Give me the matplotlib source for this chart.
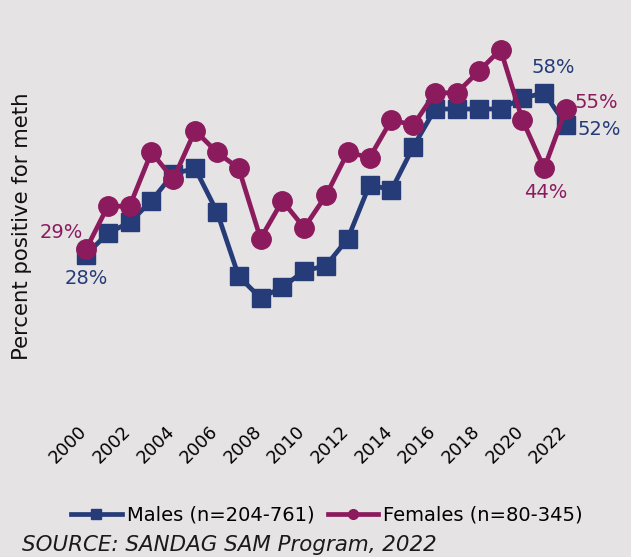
import matplotlib
matplotlib.use("Agg")
import matplotlib.pyplot as plt
import matplotlib.transforms as mtransforms

years = list(range(2000, 2023))
males = [28, 32, 34, 38, 43, 44, 36, 24, 20, 22, 25, 26, 31, 41, 40, 48, 55, 55, 55, 55, 57, 58, 52]
females = [29, 37, 37, 47, 42, 51, 47, 44, 31, 38, 33, 39, 47, 46, 53, 52, 58, 58, 62, 66, 53, 44, 55]
tick_years = list(range(2000, 2023, 2))

male_color = "#253c78"
female_color = "#8c1b5e"
bg = "#e5e3e4"

plt.rcParams['font.family'] = ['DejaVu Sans']

W, H = 631, 557
fig = plt.figure(figsize=(W / 100, H / 100), dpi=100, facecolor=bg)

left_px, right_px, top_px, bottom_px = 60, 600, 28, 406
ax = fig.add_axes([left_px / W, 1 - bottom_px / H, (right_px - left_px) / W, (bottom_px - top_px) / H])
ax.set_facecolor(bg)
ppy = (566 - 86) / 22
ax.set_xlim(2000 - (86 - left_px) / ppy, 2022 + (right_px - 566) / ppy)
ax.set_ylim(0, 70)

ax.plot(years, males, color=male_color, lw=3.4, marker='s', markersize=13.5, label='Males (n=204-761)')
ax.plot(years, females, color=female_color, lw=3.4, marker='o', markersize=14, label='Females (n=80-345)')

for s in ax.spines.values():
    s.set_visible(False)
ax.set_yticks([])
ax.set_xticks(tick_years)
ax.set_xticklabels([str(y) for y in tick_years], rotation=45, ha='right', rotation_mode='anchor', fontsize=12.8)
ax.tick_params(axis='x', length=0, pad=12)
offset = mtransforms.ScaledTranslation(-8 / 100, 0, fig.dpi_scale_trans)
for lab in ax.get_xticklabels():
    lab.set_transform(lab.get_transform() + offset)

fig.text(22 / W, 1 - 226 / H, 'Percent positive for meth', rotation=90, fontsize=15.3,
         ha='center', va='center', color='#111111')

fs = 14
def ann(txt, x, y, dx, dy, c):
    ax.annotate(txt, (x, y), xytext=(dx, dy), textcoords='offset points', ha='center', va='center', color=c, fontsize=fs)

ann('28%', 2000, 28, 0, -17, male_color)
ann('29%', 2000, 29, -18, 12, female_color)
ann('58%', 2021, 58, 6.5, 18, male_color)
ann('52%', 2022, 52, 24, -3, male_color)
ann('55%', 2022, 55, 22, 5, female_color)
ann('44%', 2021, 44, 1, -17, female_color)

fig.legend(loc='center', bbox_to_anchor=(327 / W, 1 - 515 / H), ncol=2, frameon=False,
           fontsize=14, handlelength=2.6, handletextpad=0.25, columnspacing=0.7, markerscale=0.5)

fig.text(22 / W, 1 - 545 / H, 'SOURCE: SANDAG SAM Program, 2022', fontsize=15.4, style='italic',
         ha='left', va='center', color='#1a1a1a')

fig.savefig('out.png', dpi=100, facecolor=bg)
